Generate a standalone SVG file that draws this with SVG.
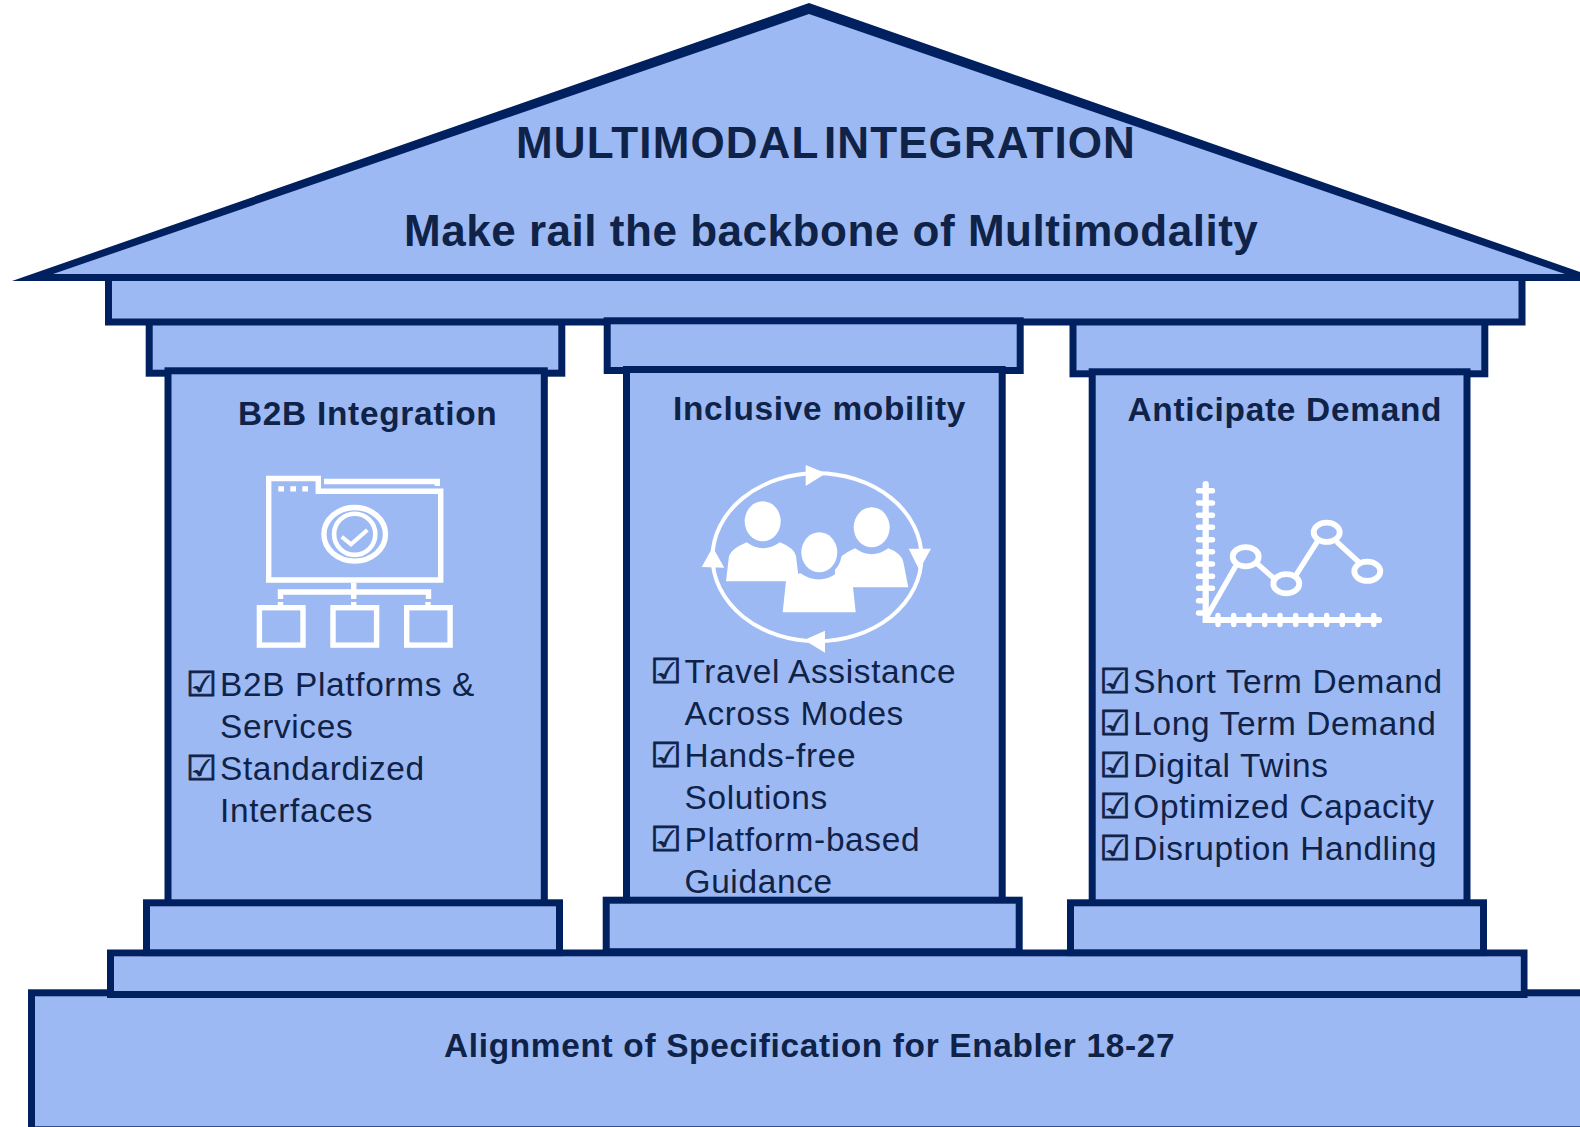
<svg xmlns="http://www.w3.org/2000/svg" width="1580" height="1127" viewBox="0 0 1580 1127">
<style>
.b{fill:#9DB9F3;stroke:#002060;stroke-width:7}
.t{font-family:"Liberation Sans",Arial,sans-serif;fill:#0F2248}
.h{font-weight:700}
.i{font-size:33.4px;letter-spacing:.66px}
.l{font-size:33.4px;letter-spacing:.72px}
.c{font-family:"DejaVu Sans",sans-serif;font-size:34.5px;fill:#0F2248;stroke:#0F2248;stroke-width:.8}
.w{fill:none;stroke:#fff;stroke-width:5.4}
.f{fill:#fff}
.r{fill:none;stroke:#fff;stroke-width:5.4;stroke-linecap:round}
.d{fill:#9DB9F3;stroke:#fff;stroke-width:5.8}
</style>
<rect width="1580" height="1127" fill="#fff"/>
<g id="foundation">
<rect class="b" x="31.5" y="992.8" width="1600" height="137"/>
<text class="t h" x="444" y="1056.5" font-size="33.4" letter-spacing=".68">Alignment of Specification for Enabler 18-27</text>
</g>
<g id="plinth"><rect class="b" x="110.5" y="953" width="1413.5" height="41.5"/></g>
<g id="pillar-1-cap"><rect class="b" x="149.2" y="310" width="412.6" height="63.2"/></g>
<g id="pillar-3-cap"><rect class="b" x="1073" y="310" width="411.8" height="63.8"/></g>
<g id="beam"><rect class="b" x="108.5" y="270" width="1413.5" height="52"/></g>
<g id="pillar-2-cap"><rect class="b" x="607.2" y="320.8" width="413" height="49.7"/></g>
<g id="roof">
<polygon points="12,281 809,3 1606,281" fill="#002060"/>
<polygon points="53,274 809,14 1565,274" fill="#9DB9F3"/>
<text class="t h" x="516" y="157.5" font-size="44" letter-spacing="1.1" word-spacing="-8">MULTIMODAL INTEGRATION</text>
<text class="t h" x="404" y="246" font-size="44" letter-spacing=".53">Make rail the backbone of Multimodality</text>
</g>
<g id="pillar-1">
<rect class="b" x="168" y="370.8" width="376.3" height="540"/>
<text class="t h l" x="238" y="425">B2B Integration</text>
<g id="icon-folder">
<path class="w" d="M268.7 478.5H318.3V491.3H440.7V580H268.7Z"/>
<path class="w" d="M324 481.5H437.3V486"/>
<path class="f" d="M278.3 486.3h5.7v5.3h-5.7zM290.3 486.3h5.7v5.3h-5.7zM302.3 486.3h5.7v5.3h-5.7z"/>
<ellipse class="w" cx="354.7" cy="534.3" rx="30.8" ry="26.8"/>
<circle cx="354.7" cy="534.3" r="20.6" fill="none" stroke="#fff" stroke-width="4.6"/>
<polyline points="341.7,536.7 351,544.3 367.3,530" fill="none" stroke="#fff" stroke-width="4"/>
<path class="w" d="M353.7 582.7V599M280.5 599V592H428.5V599M280.5 602V605M353.7 602V605M428 602V605"/>
<rect class="w" x="259.4" y="607.7" width="43.6" height="37.4"/>
<rect class="w" x="333" y="607.7" width="43.6" height="37.4"/>
<rect class="w" x="406.7" y="607.7" width="43.4" height="37.4"/>
</g>
<text class="c" x="186" y="696">☑</text>
<text class="t i" x="220" y="696">B2B Platforms &amp;</text>
<text class="t i" x="220" y="738">Services</text>
<text class="c" x="186" y="780">☑</text>
<text class="t i" x="220" y="780">Standardized</text>
<text class="t i" x="220" y="822">Interfaces</text>
</g>
<g id="pillar-2">
<rect class="b" x="626.5" y="369.5" width="375.7" height="540"/>
<text class="t h l" x="673" y="420">Inclusive mobility</text>
<g id="icon-people">
<ellipse cx="817" cy="557.3" rx="104.5" ry="84" fill="none" stroke="#fff" stroke-width="4"/>
<path class="f" d="M805.7 465L826 473.3L805.7 486ZM908.7 548.7H931L919.3 570ZM825 630.7L804 640L825 652.7ZM712.7 547.3L724.3 567.7L701.7 567Z"/>
<ellipse class="f" cx="762.7" cy="521.3" rx="18" ry="20"/>
<path class="f" d="M726 581.3L729 556Q731 549 746.7 542.3Q762.7 554 780 542.3Q794 548 796 556L799 581.3Z"/>
<ellipse class="f" cx="871.7" cy="527.3" rx="18" ry="20"/>
<path class="f" d="M835 587.3V564Q840 555 855 548.3Q871.7 560 888.3 548.3Q901 553 903.3 561.7L908.3 587.3Z"/>
<ellipse cx="819.3" cy="552.3" rx="22.5" ry="24.5" fill="#9DB9F3"/>
<ellipse class="f" cx="819.3" cy="552.3" rx="18" ry="20"/>
<path class="f" d="M782.7 612.3L786 581L800 573Q819 586 837 573L853 587L855.7 612.3Z"/>
</g>
<text class="c" x="650.5" y="683.3">☑</text>
<text class="t i" x="684.5" y="683.3">Travel Assistance</text>
<text class="t i" x="684.5" y="725.3">Across Modes</text>
<text class="c" x="650.5" y="767.3">☑</text>
<text class="t i" x="684.5" y="767.3">Hands-free</text>
<text class="t i" x="684.5" y="809.3">Solutions</text>
<text class="c" x="650.5" y="851">☑</text>
<text class="t i" x="684.5" y="851">Platform-based</text>
<text class="t i" x="684.5" y="893">Guidance</text>
</g>
<g id="pillar-3">
<rect class="b" x="1092.2" y="371.8" width="374.8" height="540"/>
<text class="t h l" x="1127.5" y="421">Anticipate Demand</text>
<g id="icon-chart">
<path fill="none" stroke="#fff" stroke-width="6.2" stroke-linecap="round" d="M1205.7 484V620H1379"/>
<path class="r" d="M1198.5 490.7H1212.5M1198.5 503H1212.5M1198.5 515.3H1212.5M1198.5 527.3H1212.5M1198.5 539.7H1212.5M1198.5 551.7H1212.5M1198.5 564H1212.5M1198.5 576.3H1212.5M1198.5 588.3H1212.5M1198.5 600.7H1206M1198.5 613H1206"/>
<path class="r" d="M1218 615.5V624.5M1233.7 615.5V624.5M1249 615.5V624.5M1264.7 615.5V624.5M1280 615.5V624.5M1295.7 615.5V624.5M1311 615.5V624.5M1326.7 615.5V624.5M1342.3 615.5V624.5M1358 615.5V624.5M1373.7 615.5V624.5"/>
<path fill="none" stroke="#fff" stroke-width="5.3" d="M1206.7 616.7L1238 562M1256.7 563.3L1275 579.3M1295 576.7L1318.3 540M1336.7 541.7L1360 563.3"/>
<ellipse class="d" cx="1245.7" cy="556.7" rx="13" ry="9.6"/>
<ellipse class="d" cx="1286.3" cy="583.7" rx="13" ry="9.6"/>
<ellipse class="d" cx="1326.7" cy="532.3" rx="13" ry="9.6"/>
<ellipse class="d" cx="1367.3" cy="571.3" rx="13" ry="9.6"/>
</g>
<text class="c" x="1099.5" y="692.5">☑</text>
<text class="t i" x="1133.3" y="692.5">Short Term Demand</text>
<text class="c" x="1099.5" y="734.5">☑</text>
<text class="t i" x="1133.3" y="734.5">Long Term Demand</text>
<text class="c" x="1099.5" y="776.5">☑</text>
<text class="t i" x="1133.3" y="776.5">Digital Twins</text>
<text class="c" x="1099.5" y="818">☑</text>
<text class="t i" x="1133.3" y="818">Optimized Capacity</text>
<text class="c" x="1099.5" y="860">☑</text>
<text class="t i" x="1133.3" y="860">Disruption Handling</text>
</g>
<g id="pillar-1-base"><rect class="b" x="146.5" y="902.8" width="413" height="50"/></g>
<g id="pillar-2-base"><rect class="b" x="606.2" y="900.2" width="413" height="51.5"/></g>
<g id="pillar-3-base"><rect class="b" x="1070.5" y="902.8" width="413" height="50"/></g>
<rect x="114" y="956.6" width="1406.6" height="34.4" fill="#9DB9F3"/>
</svg>
